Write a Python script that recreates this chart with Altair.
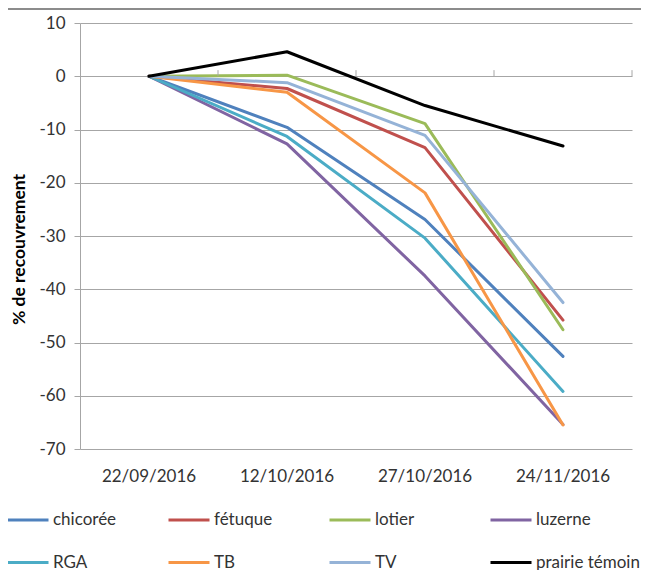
import altair as alt
import pandas as pd

dates = ["22/09/2016", "12/10/2016", "27/10/2016", "24/11/2016"]
series_names = ["chicorée", "fétuque", "lotier", "luzerne", "RGA", "TB", "TV", "prairie témoin"]
colors = ["#4F81BD", "#C0504D", "#9BBB59", "#8064A2", "#4BACC6", "#F79646", "#95B3D7", "#000000"]
widths = [3, 3, 3, 3, 3, 3, 3, 5.5]

chicoree = [0, -9.6, -26.9, -52.6]
fetuque = [0, -2.3, -13.4, -45.8]
lotier = [0, 0.2, -8.9, -47.6]
luzerne = [0, -12.7, -37.5, -65.4]
rga = [0, -11.3, -30.4, -59.2]
tb = [0, -3.0, -21.9, -65.5]
tv = [0, -1.2, -11.1, -42.5]
prairie = [0, 4.6, -5.5, -13.1]

values = [chicoree, fetuque, lotier, luzerne, rga, tb, tv, prairie]
y_ticks = [10, 0, -10, -20, -30, -40, -50, -60, -70]

rows = []
for name, vals in zip(series_names, values):
    for d, v in zip(dates, vals):
        rows.append({"date": d, "series": name, "value": v})
df = pd.DataFrame(rows)

FONT = "Lato"
GRID = "#A6A6A6"
TXT = "#333333"
FS = 17

xscale = alt.Scale(type="band", paddingInner=0, paddingOuter=0, domain=dates)
yscale = alt.Scale(domain=[-70, 10], nice=False, zero=False)

legend_kw = dict(title=None, orient="none", legendX=-74, legendY=475,
                 columns=4, direction="horizontal", gridAlign="all",
                 symbolType="stroke", symbolSize=1681, symbolStrokeWidth=4,
                 labelOffset=3, labelFont=FONT, labelFontSize=FS, labelColor=TXT,
                 columnPadding=5, rowPadding=12.5, labelLimit=300)

lines = alt.Chart(df).mark_line(strokeJoin="round", strokeCap="round").encode(
    x=alt.X("date:N", sort=dates, scale=xscale,
            axis=alt.Axis(title=None, ticks=False, domain=False, grid=False,
                          labelAngle=0, labelAlign="center", labelFontSize=FS,
                          labelFont=FONT, labelColor=TXT, labelPadding=19)),
    y=alt.Y("value:Q", scale=yscale,
            axis=alt.Axis(values=y_ticks, title="% de recouvrement",
                          labelExpr="'' + datum.value",
                          titleFont=FONT, titleFontSize=17.5, titleFontWeight="bold",
                          titleColor="#000000", titleX=-52, titleY=226,
                          labelFont=FONT, labelFontSize=FS, labelColor=TXT,
                          labelPadding=9, tickSize=6, tickColor=GRID,
                          domainColor=GRID, grid=True, gridColor=GRID, gridWidth=1)),
    color=alt.Color("series:N", scale=alt.Scale(domain=series_names, range=colors),
                    legend=alt.Legend(**legend_kw)),
    strokeWidth=alt.StrokeWidth("series:N", scale=alt.Scale(domain=series_names, range=widths),
                                legend=None),
)

tick_df = pd.DataFrame({"date": dates})
xticks = alt.Chart(tick_df).mark_rule(color=GRID, strokeWidth=1).encode(
    x=alt.X("date:N", sort=dates, scale=xscale, bandPosition=1, axis=None),
    y=alt.YDatum(0, scale=yscale, axis=None),
    y2=alt.datum(1.15),
)

top_line = alt.Chart(tick_df).mark_rule(color="#8C8C8C", strokeWidth=2).encode(
    x=alt.value(-72), x2=alt.value(561), y=alt.value(-14)
)

chart = alt.layer(lines, xticks, top_line).resolve_scale(
    x="independent", y="independent"
).properties(
    width=552, height=426,
    padding={"left": 72, "top": 15, "right": 9, "bottom": 121},
    autosize=alt.AutoSizeParams(type="none"),
    background="white",
).configure_view(strokeWidth=0)

chart.save("out.html", embed_options={"renderer": "svg", "actions": False})
